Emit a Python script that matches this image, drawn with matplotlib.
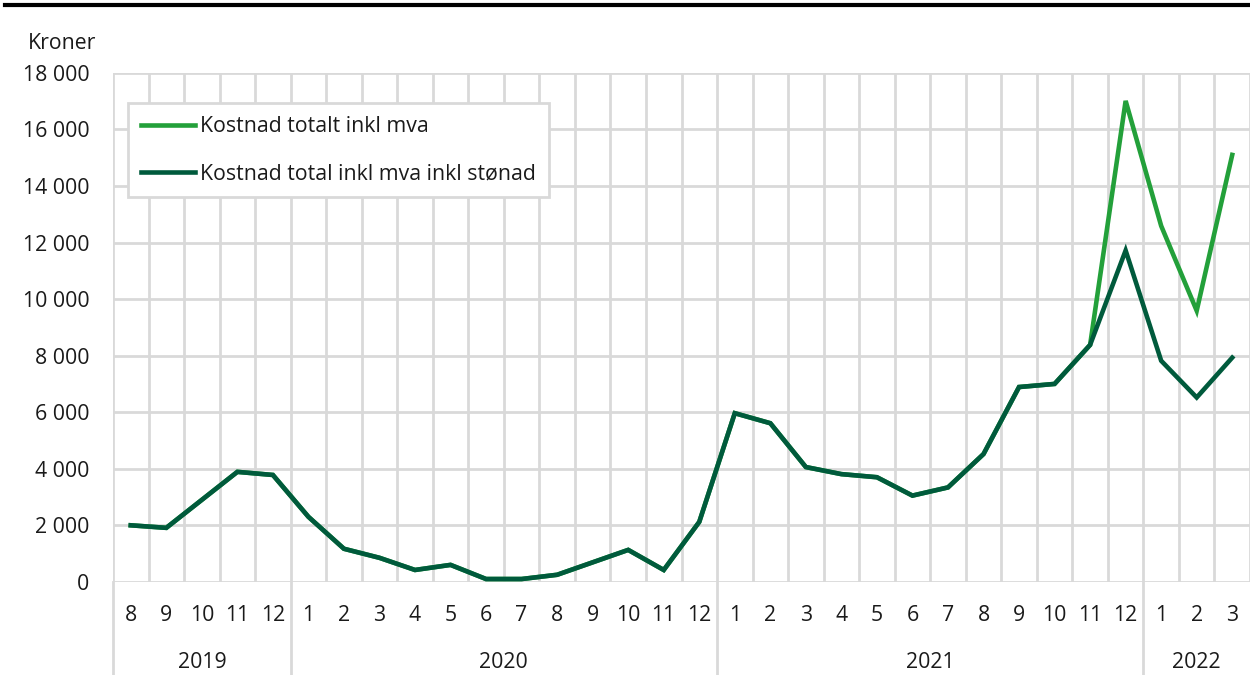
import matplotlib.pyplot as plt
from matplotlib.lines import Line2D
from matplotlib.ticker import FuncFormatter

plt.rcParams['font.family'] = ['Open Sans', 'DejaVu Sans']

# Månedlige kostnader, aug 2019 - mar 2022
maaneder = [8, 9, 10, 11, 12,
            1, 2, 3, 4, 5, 6, 7, 8, 9, 10, 11, 12,
            1, 2, 3, 4, 5, 6, 7, 8, 9, 10, 11, 12,
            1, 2, 3]
aar = ["2019", "2020", "2021", "2022"]
antall_per_aar = [5, 12, 12, 3]

kostnad_total = [2000, 1910, 2900, 3890, 3780,
                 2300, 1170, 850, 420, 600, 100, 100, 250, 690, 1130, 420, 2120,
                 5965, 5610, 4060, 3810, 3700, 3050, 3340, 4520, 6890, 7000, 8380, 17010,
                 12590, 9590, 15100]
kostnad_stonad = [2000, 1910, 2900, 3890, 3780,
                  2300, 1170, 850, 420, 600, 100, 100, 250, 690, 1130, 420, 2120,
                  5965, 5610, 4060, 3810, 3700, 3050, 3340, 4520, 6890, 7000, 8380, 11720,
                  7820, 6520, 7930]

LYS = "#23A03A"
MORK = "#005A3C"
GRID = "#D9D9D9"
TEKST = "#1A1A1A"
FS = 15.3

fig = plt.figure(figsize=(12.5, 6.75), dpi=100)
ax = fig.add_axes([0.0904, 0.138, 0.9096, 0.754])

x = list(range(len(maaneder)))
ax.plot(x, kostnad_total, color=LYS, lw=3.3, solid_joinstyle="miter", zorder=3)
ax.plot(x, kostnad_stonad, color=MORK, lw=3.3, solid_joinstyle="miter", zorder=4)

ax.set_xlim(-0.5, len(maaneder) - 0.5)
ax.set_ylim(0, 18000)
ax.set_yticks(range(0, 18001, 2000))
ax.yaxis.set_major_formatter(FuncFormatter(lambda v, p: f"{int(v):,}".replace(",", " ")))

ax.set_xticks(x)
ax.set_xticklabels([str(m) for m in maaneder])
ax.set_xticks([i - 0.5 for i in range(len(maaneder) + 1)], minor=True)
ax.tick_params(axis="both", which="both", length=0, labelsize=FS, colors=TEKST)
ax.tick_params(axis="x", pad=17)
ax.tick_params(axis="y", pad=17)

ax.grid(axis="y", which="major", color=GRID, lw=2)
ax.grid(axis="x", which="minor", color=GRID, lw=2)
ax.grid(axis="x", which="major", visible=False)
ax.set_axisbelow(True)
for s in ax.spines.values():
    s.set_visible(False)

# årsgrupper under månedene
start = 0
for navn, n in zip(aar, antall_per_aar):
    ax.plot([start - 0.5, start - 0.5], [0, -0.183], color=GRID, lw=2,
            transform=ax.get_xaxis_transform(), clip_on=False)
    ax.text(start + (n - 1) / 2, -0.158, navn, transform=ax.get_xaxis_transform(),
            ha="center", va="center", fontsize=FS, color=TEKST)
    start += n

fig.text(0.0224, 0.936, "Kroner", fontsize=FS, color=TEKST, va="center")
fig.add_artist(Line2D([0.004, 1.0], [0.9925, 0.9925], color="black", lw=3))

handles = [Line2D([], [], color=LYS, lw=3.3), Line2D([], [], color=MORK, lw=3.3)]
leg = ax.legend(handles, ["Kostnad totalt inkl mva", "Kostnad total inkl mva inkl stønad"],
                loc="upper left", bbox_to_anchor=(128 / 1250, 1 - 103 / 675),
                bbox_transform=fig.transFigure, fontsize=FS, frameon=True, fancybox=False,
                handlelength=2.55, handletextpad=0.2, labelspacing=1.22,
                borderpad=0.62, borderaxespad=0, labelcolor=TEKST)
leg.get_frame().set_edgecolor(GRID)
leg.get_frame().set_linewidth(2)
leg.get_frame().set_alpha(1)

fig.savefig("out.png", dpi=100)
